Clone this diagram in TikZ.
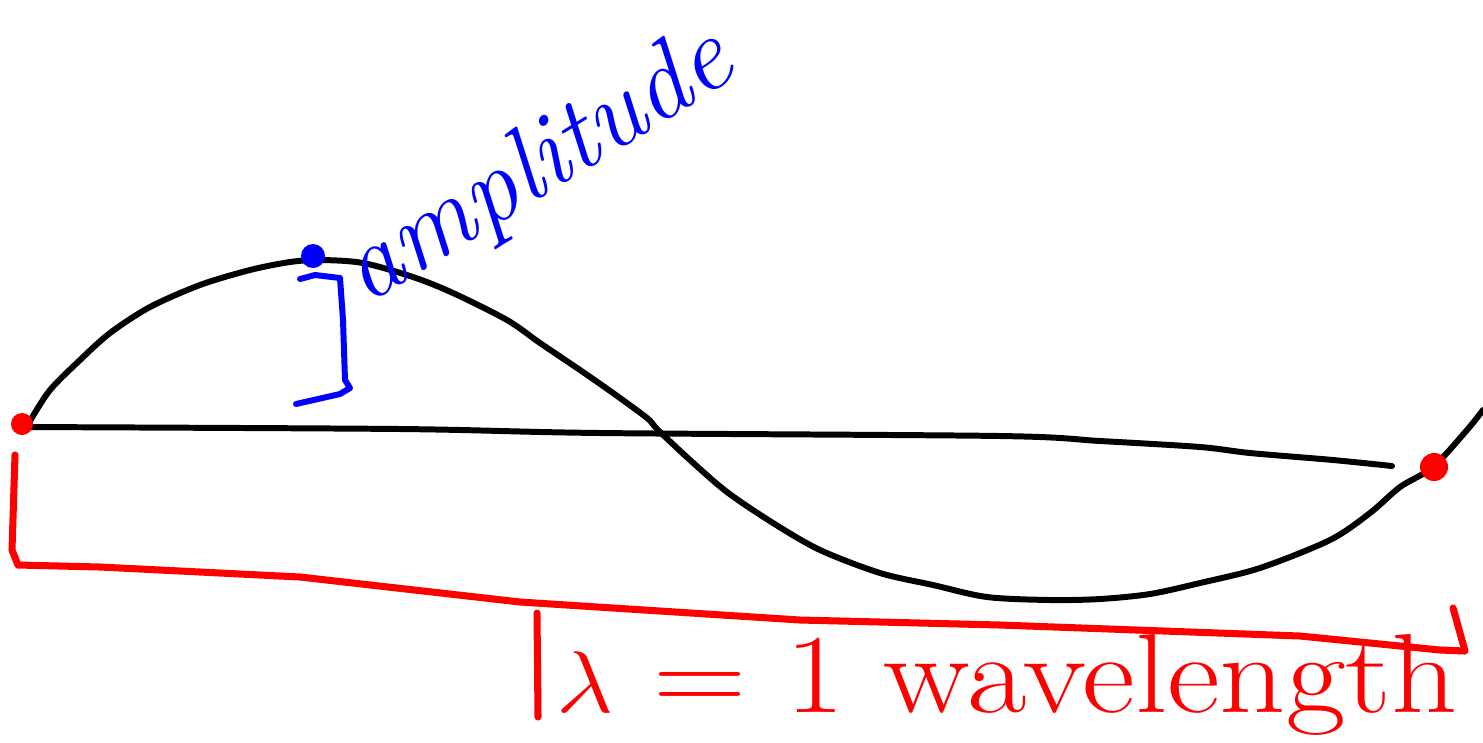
\documentclass[tikz,border=0pt]{standalone}
\usepackage{amsmath}
\usepackage{xcolor}
\usetikzlibrary{calc}
\definecolor{inkred}{RGB}{255, 0, 0}
\definecolor{inkblue}{RGB}{0, 0, 255}

\begin{document}
\begin{tikzpicture}[x=0.01cm, y=-0.01cm,
    wave/.style={line width=1.7pt, black, line cap=round, line join=round},
    redink/.style={line width=2pt, color=inkred, line cap=round, line join=round},
    blueink/.style={line width=1.7pt, color=inkblue, line cap=round, line join=round},
    lbl/.style={inner sep=0pt}]

    \useasboundingbox (0,0) rectangle (1483,742);

    % Sinuskurve und Achse
    \draw[wave] plot[smooth, tension=0.5] coordinates {(30,421) (50,390) (80,360)
        (110,333) (150,307) (200,285) (250,270) (290,262) (320,260) (363,263)
        (413,277) (453,293) (507,320) (540,343) (580,370) (613,393) (647,418)
        (658,430) (690,460) (727,492) (773,523) (820,550) (880,573) (933,585)
        (987,597) (1050,600) (1100,599) (1150,594) (1200,583) (1260,568)
        (1330,540) (1370,513) (1400,487) (1433,467) (1467,430) (1483,410)};
    \draw[wave] plot[smooth, tension=0.5] coordinates {(22,427) (400,429)
        (600,433) (1000,436) (1100,441) (1200,447) (1250,453) (1333,460)
        (1392,466)};

    % Start- und Endpunkt
    \coordinate (start) at (22,424);
    \coordinate (stop)  at (1434,467);
    \fill[inkred] (start) circle (11);
    \fill[inkred] (stop)  circle (14);

    % Klammer fuer die Wellenlaenge
    \draw[redink] (15,455) -- (12,550) -- (18,565) -- (100,567) -- (300,577)
        -- (520,602) -- (800,620) -- (1000,625) -- (1300,636) -- (1440,650)
        -- (1465,651) -- (1453,608);
    \draw[redink] (537,613) -- (538,717);
    \node[lbl, text=inkred, anchor=base west, font=\fontsize{32}{38}\selectfont]
        (wl) at (556,712) {\scalebox{1.15}[1]{$\lambda$ = 1 wavelength}};

    % Amplitude
    \coordinate (crest) at (313,256);
    \fill[inkblue] (crest) circle (12);
    \draw[blueink] (300,279) -- (315,275) -- (340,278) -- (343,320) -- (345,380)
        -- (350,388) -- (340,394) -- (296,404);
    \node[lbl, text=inkblue, anchor=base west, rotate=31.7,
        font=\fontsize{30}{36}\selectfont] (amp) at (366,306) {\itshape amplitude};

\end{tikzpicture}
\end{document}
